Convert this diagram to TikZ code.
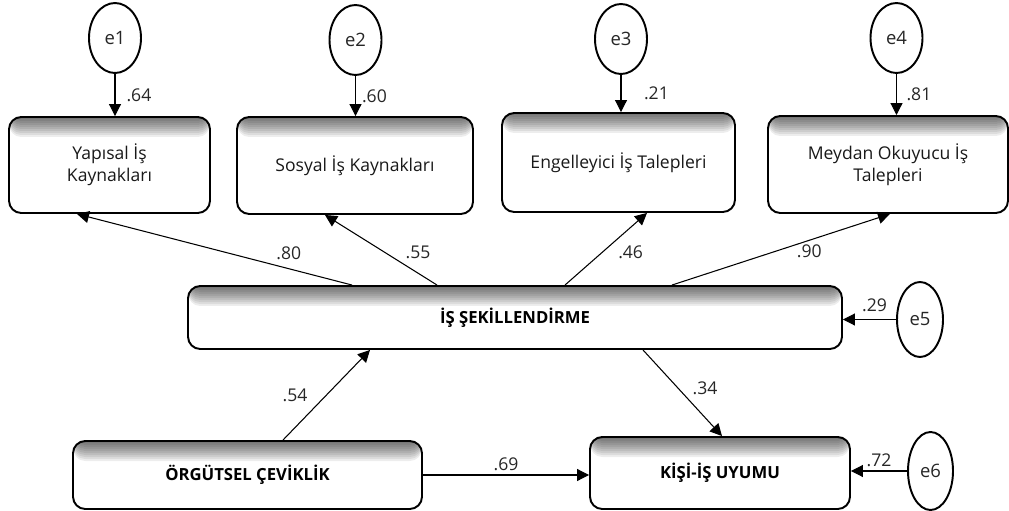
\documentclass[tikz,border=0pt]{standalone}
\usepackage{fontspec}
\setmainfont{Open Sans}
\usetikzlibrary{positioning,shapes,arrows.meta}
\tikzstyle{obs}=[draw, line width=1.1pt, rounded corners=7pt, fill=white, align=center, text=black!90,
  path picture={\foreach \i in {1,...,10} {\fill[black, opacity=0.07] (path picture bounding box.north west) rectangle ([yshift=-\i*0.04cm]path picture bounding box.north east);}}]
\tikzstyle{lat}=[obs, font=\fontsize{9.5}{11}\selectfont\bfseries, text=black]
\tikzstyle{err}=[draw, ellipse, line width=1.1pt, minimum width=1.04cm, minimum height=1.40cm, inner sep=0pt, text=black!85, font=\fontsize{10.5}{12}\selectfont]
\tikzstyle{path}=[->, line width=0.6pt]
\tikzstyle{coef}=[text=black!85, inner sep=2pt]

\begin{document}
\begin{tikzpicture}[>={Triangle[length=0.24cm,width=0.24cm]}, font=\fontsize{10}{12.5}\selectfont]
\useasboundingbox (0,0) rectangle (20.18,-10.22);

% dimensions of job crafting
\node[obs, minimum width=4.02cm, minimum height=1.92cm] at (2.19,-3.30) (yapi) {Yapısal İş\\Kaynakları};
\node[obs, minimum width=4.72cm, minimum height=1.94cm] at (7.10,-3.31) (sosyal) {Sosyal İş Kaynakları};
\node[obs, minimum width=4.66cm, minimum height=1.98cm] at (12.37,-3.25) (engel) {Engelleyici İş Talepleri};
\node[obs, minimum width=4.80cm, minimum height=1.94cm] at (17.76,-3.29) (meydan) {Meydan Okuyucu İş\\Talepleri};

\node[err] at (2.30,-0.76) (e1) {e1};
\node[err] at (7.11,-0.80) (e2) {e2};
\node[err] at (12.42,-0.78) (e3) {e3};
\node[err] at (17.93,-0.76) (e4) {e4};

\draw[path] (e1) -- node[coef, right, xshift=0.15cm] {.64} (e1 |- yapi.north);
\draw[path] (e2) -- node[coef, right, xshift=0.05cm] {.60} (e2 |- sosyal.north);
\draw[path] (e3) -- node[coef, right, xshift=0.38cm] {.21} (e3 |- engel.north);
\draw[path] (e4) -- node[coef, right, xshift=0.12cm] {.81} (e4 |- meydan.north);

% latent variables
\node[lat, minimum width=13.08cm, minimum height=1.26cm] at (10.30,-6.35) (isk) {İŞ ŞEKİLLENDİRME};
\node[lat, minimum width=6.98cm, minimum height=1.36cm] at (4.95,-9.50) (org) {ÖRGÜTSEL ÇEVİKLİK};
\node[lat, minimum width=5.20cm, minimum height=1.44cm] at (14.40,-9.46) (kisi) {KİŞİ-İŞ UYUMU};

\node[err, minimum width=0.92cm, minimum height=1.50cm] at (18.40,-6.39) (e5) {e5};
\node[err, minimum width=0.90cm, minimum height=1.56cm] at (18.61,-9.42) (e6) {e6};

\draw[path] ([xshift=-3.26cm]isk.north) -- node[coef, pos=0.23, above, yshift=0.1cm] {.80} ([xshift=-0.65cm]yapi.south);
\draw[path] ([xshift=-1.56cm]isk.north) -- node[coef, pos=0.17, above, yshift=0.2cm] {.55} ([xshift=-0.60cm]sosyal.south);
\draw[path] ([xshift=1.00cm]isk.north) -- node[coef, pos=0.6, below right] {.46} ([xshift=0.57cm]engel.south);
\draw[path] ([xshift=3.14cm]isk.north) -- node[coef, pos=0.63, below] {.90} ([xshift=0.04cm]meydan.south);

\draw[path] ([xshift=0.71cm]org.north) -- node[coef, pos=0.5, left, xshift=-0.3cm] {.54} ([xshift=-2.90cm]isk.south);
\draw[path] ([xshift=2.56cm]isk.south) -- node[coef, pos=0.45, right, xshift=0.2cm] {.34} ([xshift=0.04cm]kisi.north);
\draw[path] (org.east) -- node[coef, above] {.69} (org.east -| kisi.west);

\draw[path] (e5.west) -- node[coef, above, xshift=0.1cm, yshift=0.08cm] {.29} (e5.west -| isk.east);
\draw[path] (e6.west) -- node[coef, above] {.72} (e6.west -| kisi.east);
\end{tikzpicture}
\end{document}
